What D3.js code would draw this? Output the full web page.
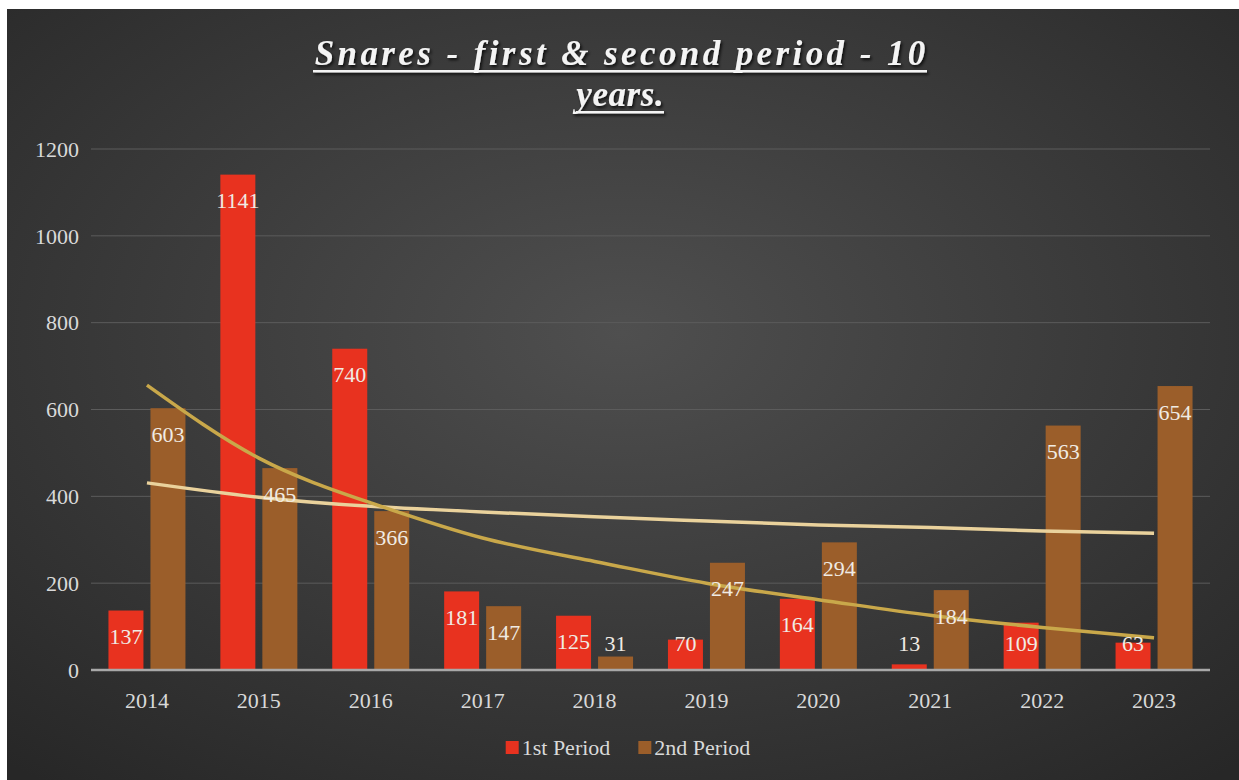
<!DOCTYPE html>
<html>
<head>
<meta charset="utf-8">
<script src="https://cdn.jsdelivr.net/npm/d3@7"></script>
<style>
html,body{margin:0;padding:0;background:#ffffff;}
svg{display:block;}
</style>
</head>
<body>
<svg id="chart" width="1239" height="780"></svg>
<script>
const years = ["2014","2015","2016","2017","2018","2019","2020","2021","2022","2023"];
const firstPeriod = [137,1141,740,181,125,70,164,13,109,63];
const secondPeriod = [603,465,366,147,31,247,294,184,563,654];
// trendlines at each category centre
const trendFirst = [656,488,385,304,250,200,162,126,98,74];
const trendSecond = [431,398,377,364,353,343,334,328,320,315];
const yTicks = [0,200,400,600,800,1000,1200];
const seriesNames = ["1st Period","2nd Period"];
const titleLines = ["Snares - first & second period - 10","years."];

const W = 1239, H = 780;
const svg = d3.select("#chart");
const defs = svg.append("defs");
const grad = defs.append("radialGradient").attr("id","bg")
  .attr("cx","50%").attr("cy","42%").attr("r","75%");
grad.append("stop").attr("offset","0%").attr("stop-color","#4f4f4f");
grad.append("stop").attr("offset","100%").attr("stop-color","#272727");
const f = defs.append("filter").attr("id","shadow").attr("x","-10%").attr("y","-30%").attr("width","120%").attr("height","160%");
f.append("feDropShadow").attr("dx",1.5).attr("dy",2).attr("stdDeviation",1.5).attr("flood-color","#000").attr("flood-opacity",0.8);

svg.append("rect").attr("x",7).attr("y",9).attr("width",W-7).attr("height",H-9).attr("fill","url(#bg)");

const plot = {left:91, right:1210, top:149, bottom:670};
const x = d3.scaleBand().domain(years).range([plot.left, plot.right]).padding(0);
const y = d3.scaleLinear().domain([0,1200]).range([plot.bottom, plot.top]);
const step = x.bandwidth();
const bw = step*35/111.9, gap = step*7/111.9;

const serif = "'Liberation Serif','DejaVu Serif',serif";

// gridlines
svg.append("g").selectAll("line").data(yTicks.filter(d=>d>0)).join("line")
  .attr("x1",plot.left).attr("x2",plot.right)
  .attr("y1",d=>y(d)).attr("y2",d=>y(d))
  .attr("stroke","#5c5c5c").attr("stroke-width",1);

// y labels
svg.append("g").selectAll("text").data(yTicks).join("text")
  .attr("x",79).attr("y",d=>y(d)).attr("dy","0.35em")
  .attr("text-anchor","end").attr("fill","#d9d9d9")
  .attr("font-family",serif).attr("font-size",22).text(d=>d);

// bars
const colors = ["#e8321f","#9b5e2a"];
const data = [firstPeriod, secondPeriod];
data.forEach((vals,si)=>{
  const off = si===0 ? -(gap/2+bw) : gap/2;
  const g = svg.append("g");
  g.selectAll("rect").data(vals).join("rect")
    .attr("x",(d,i)=>x(years[i])+step/2+off)
    .attr("y",d=>y(d)).attr("width",bw).attr("height",d=>y(0)-y(d))
    .attr("fill",colors[si]);
});

// axis line
svg.append("line").attr("x1",plot.left).attr("x2",plot.right)
  .attr("y1",y(0)).attr("y2",y(0)).attr("stroke","#a8a8a8").attr("stroke-width",2.5);

// x labels
svg.append("g").selectAll("text").data(years).join("text")
  .attr("x",d=>x(d)+step/2).attr("y",700).attr("dy","0.35em")
  .attr("text-anchor","middle").attr("fill","#d9d9d9")
  .attr("font-family",serif).attr("font-size",22).text(d=>d);

// trendlines
const line = d3.line().x((d,i)=>x(years[i])+step/2).y(d=>y(d)).curve(d3.curveNatural);
svg.append("path").datum(trendSecond).attr("d",line).attr("fill","none")
  .attr("stroke","#ead29c").attr("stroke-width",3.5);
svg.append("path").datum(trendFirst).attr("d",line).attr("fill","none")
  .attr("stroke","#c9a84a").attr("stroke-width",3.5);

// data labels
data.forEach((vals,si)=>{
  const off = si===0 ? -(gap/2+bw/2) : gap/2+bw/2;
  svg.append("g").selectAll("text").data(vals).join("text")
    .attr("x",(d,i)=>x(years[i])+step/2+off)
    .attr("y",d=>Math.min(y(d)+26, y(0)-27)).attr("dy","0.35em")
    .attr("text-anchor","middle").attr("fill","#f0ebe4")
    .attr("font-family",serif).attr("font-size",22).text(d=>d);
});

// title
const title = svg.append("g").attr("filter","url(#shadow)");
const tl = [{t:titleLines[0],y:65,w:614},{t:titleLines[1],y:106,w:88}];
tl.forEach(o=>{
  const t = title.append("text").attr("x",620).attr("y",o.y).attr("text-anchor","middle")
    .attr("fill","#f4f4f4").attr("font-family",serif).attr("font-style","italic")
    .attr("font-weight","bold").attr("font-size",35).attr("letter-spacing",0)
    .text(o.t);
  const len = t.node().getComputedTextLength();
  const n = o.t.length;
  const ls = (o.w - len)/n;
  t.attr("letter-spacing",ls).attr("x",620+ls/2);
  title.append("rect").attr("x",620-o.w/2).attr("y",o.y+5).attr("width",o.w).attr("height",2.5).attr("fill","#f4f4f4");
});

// legend
const legend = svg.append("g");
let lx = 0;
seriesNames.forEach((s,i)=>{
  const g = legend.append("g").attr("transform",`translate(${lx},0)`);
  g.append("rect").attr("x",0).attr("y",741).attr("width",13).attr("height",13).attr("fill",colors[i]);
  const t = g.append("text").attr("x",16).attr("y",747).attr("dy","0.35em")
    .attr("fill","#d9d9d9").attr("font-family",serif).attr("font-size",22).text(s);
  lx += 16 + t.node().getComputedTextLength() + 28;
});
const total = lx - 28;
legend.attr("transform",`translate(${628-total/2},0)`);
</script>
</body>
</html>
